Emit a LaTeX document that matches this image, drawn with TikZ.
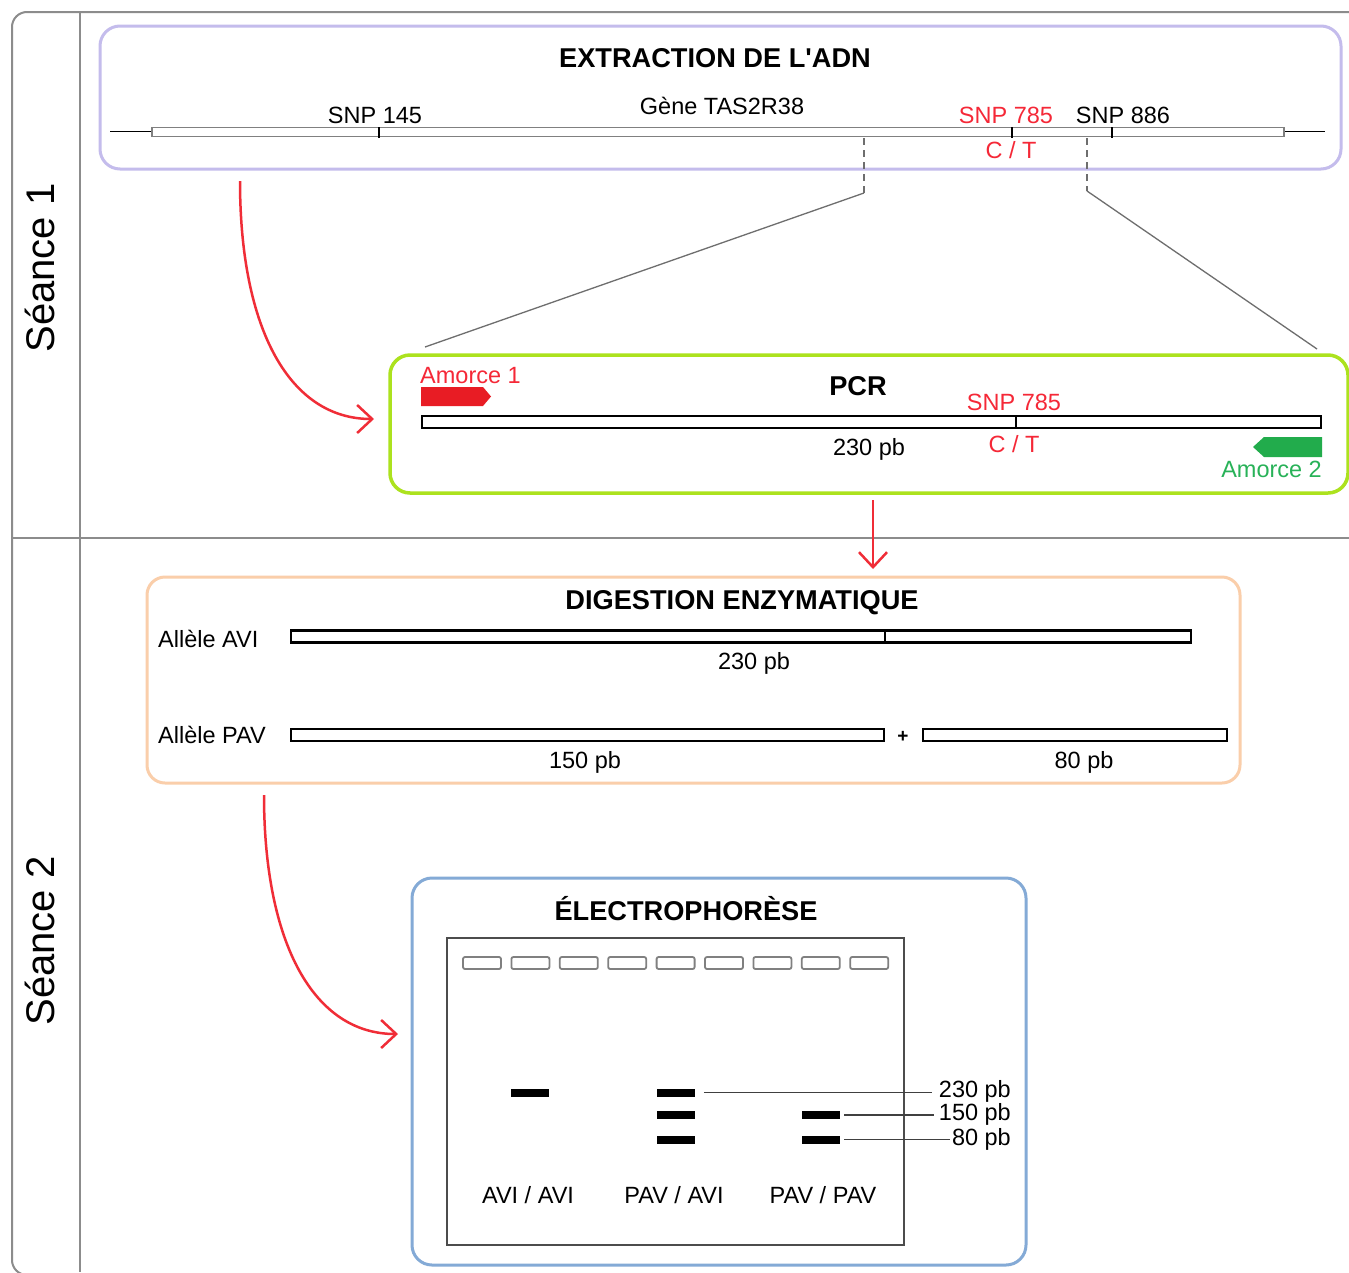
\documentclass[tikz,border=0pt]{standalone}
\usepackage{fontspec}
\setmainfont{Liberation Sans}[Ligatures=TeXOff]
\usetikzlibrary{arrows.meta,calc}
\definecolor{framegray}{RGB}{140,140,140}
\definecolor{lav}{RGB}{196,188,236}
\definecolor{lime}{RGB}{172,226,30}
\definecolor{peach}{RGB}{250,206,170}
\definecolor{skyb}{RGB}{132,170,214}
\definecolor{snpred}{RGB}{245,40,55}
\definecolor{primred}{RGB}{232,28,36}
\definecolor{primgreen}{RGB}{34,172,76}
\definecolor{txtgreen}{RGB}{40,178,88}
\definecolor{arrred}{RGB}{240,45,55}
\definecolor{zoomgray}{RGB}{110,110,110}
\begin{document}
\begin{tikzpicture}[x=1pt,y=-1pt,
  txt/.style={font=\fontsize{23.5}{28}\selectfont, inner sep=0pt, anchor=base},
  ttl/.style={font=\bfseries\fontsize{27.2}{31}\selectfont, inner sep=0pt, anchor=base},
  redtxt/.style={txt, text=snpred},
  stage/.style={draw, line width=3pt, rounded corners=20pt, inner sep=0pt},
  frameline/.style={draw=framegray, line width=2pt},
  genebar/.style={draw=gray, line width=1.5pt, fill=white},
  dnabar/.style={draw=black, line width=2.5pt, fill=white},
  tickmark/.style={line width=2.5pt},
  zoomline/.style={draw=zoomgray, line width=1.3pt},
  flow/.style={draw=arrred, line width=2.5pt, -{Straight Barb[length=15pt,width=28pt,line width=2.5pt]}},
  well/.style={draw=gray, line width=1.8pt, rounded corners=2pt, minimum width=38pt, minimum height=12pt, inner sep=0pt},
  band/.style={fill=black, minimum width=38pt, minimum height=8pt, inner sep=0pt},
  lblline/.style={draw=black!75, line width=1.2pt},
  seance/.style={font=\fontsize{40}{44}\selectfont, rotate=90, inner sep=0pt},
]
\useasboundingbox (0,0) rectangle (1349,1272);
\clip (0,0) rectangle (1349,1272);
\fill[white] (0,0) rectangle (1349,1272);

% outer frame
\draw[frameline, rounded corners=15pt] (12,12) rectangle (1390,1275);
\draw[frameline] (80,12) -- (80,1272);
\draw[frameline] (12,538) -- (1349,538);
\node[seance] (s1) at (40,268) {Séance 1};
\node[seance] (s2) at (40,941) {Séance 2};

% stage boxes
\node[stage, draw=lav, minimum width=1241pt, minimum height=143pt] (ext) at (720.5,97.5) {};
\node[stage, draw=lime, line width=3.5pt, minimum width=958pt, minimum height=138pt] (pcr) at (869,424) {};
\node[stage, draw=peach, rounded corners=18pt, minimum width=1093pt, minimum height=206pt] (dig) at (693.5,680) {};
\node[stage, draw=skyb, minimum width=614pt, minimum height=387pt] (ele) at (719,1071.5) {};

% ---- Extraction
\node[ttl] (text) at (715,67) {EXTRACTION DE L'ADN};
\draw[line width=1.5pt] (110,131.5) -- (1325,131.5);
\draw[genebar] (152,127.5) rectangle (1284,136.5);
\draw[tickmark] (379,127) -- (379,137.5);
\draw[tickmark] (1012,127) -- (1012,137.5);
\draw[tickmark] (1112,127) -- (1112,137.5);
\node[txt] (snp145) at (375,123) {SNP 145};
\node[txt] (gene) at (722,114) {Gène TAS2R38};
\node[redtxt] (snp785) at (1006,123) {SNP 785};
\node[txt] (snp886) at (1123,123) {SNP 886};
\node[redtxt] (ct1) at (1011,158) {C / T};

% zoom lines
\coordinate (z1) at (864,138);
\coordinate (z1b) at (864,193);
\coordinate (z1e) at (425,347);
\coordinate (z2) at (1087,138);
\coordinate (z2b) at (1087,191);
\coordinate (z2e) at (1317,349);
\draw[zoomline, dash pattern=on 7pt off 5pt] (z1) -- (z1b);
\draw[zoomline] (z1b) -- (z1e);
\draw[zoomline, dash pattern=on 7pt off 5pt] (z2) -- (z2b);
\draw[zoomline] (z2b) -- (z2e);

% ---- PCR
\node[ttl] (tpcr) at (858,395) {PCR};
\node[redtxt, anchor=base west] (am1) at (420,383) {Amorce 1};
\fill[primred] (421,387) -- (483,387) -- (491,396.5) -- (483,406) -- (421,406) -- cycle;
\draw[dnabar] (422,416) rectangle (1321,428);
\draw[tickmark] (1016,416) -- (1016,428);
\node[redtxt] (snp785b) at (1014,410) {SNP 785};
\node[redtxt] (ct2) at (1014,452) {C / T};
\node[txt] (l230a) at (869,455) {230 pb};
\fill[primgreen] (1322,437) -- (1264,437) -- (1253,447) -- (1264,457) -- (1322,457) -- cycle;
\node[txt, text=txtgreen, anchor=base east] (am2) at (1322,477) {Amorce 2};

% ---- Digestion
\node[ttl] (tdig) at (742,609) {DIGESTION ENZYMATIQUE};
\node[txt, anchor=base west] (avi) at (158,647) {Allèle AVI};
\draw[dnabar] (291,630.5) rectangle (1191,642.5);
\draw[line width=2pt] (885,630.5) -- (885,642.5);
\node[txt] (l230b) at (754,669) {230 pb};
\node[txt, anchor=base west] (pav) at (158,743) {Allèle PAV};
\draw[dnabar] (291,729) rectangle (884,741);
\draw[dnabar] (923,729) rectangle (1227,741);
\node[txt, font=\bfseries\fontsize{19}{22}\selectfont] (plus) at (903,742.5) {+};
\node[txt] (l150) at (585,768) {150 pb};
\node[txt] (l80) at (1084,768) {80 pb};

% ---- Electrophorese
\node[ttl] (tel) at (686,920) {ÉLECTROPHORÈSE};
\node[draw=black!70, line width=1.5pt, minimum width=457pt, minimum height=307pt, inner sep=0pt] (gel) at (675.5,1091.5) {};
\foreach \i in {0,...,8} { \node[well] (w\i) at ({482+48.4*\i},963) {}; }
\node[band] (b2) at (530.4,1092.5) {};
\node[band] (b5a) at (675.6,1092.5) {};
\node[band] (b5b) at (675.6,1115) {};
\node[band] (b5c) at (675.6,1139.5) {};
\node[band] (b8b) at (820.8,1115) {};
\node[band] (b8c) at (820.8,1139.5) {};
\node[txt, anchor=base east] (g230) at (1011,1097) {230 pb};
\node[txt, anchor=base east] (g150) at (1011,1120) {150 pb};
\node[txt, anchor=base east] (g80) at (1011,1145) {80 pb};
\draw[lblline, shorten <=9pt, shorten >=7pt] (b5a.east) -- (b5a.east -| g230.west);
\draw[lblline, shorten <=4pt, shorten >=5pt] (b8b.east) -- (b8b.east -| g150.west);
\draw[lblline, shorten <=4pt, shorten >=2pt] (b8c.east) -- (b8c.east -| g80.west);
\node[txt] (lane1) at (528,1203) {AVI / AVI};
\node[txt] (lane2) at (674,1203) {PAV / AVI};
\node[txt] (lane3) at (823,1203) {PAV / PAV};

% ---- flow arrows
\coordinate (a1s) at (240,181);
\coordinate (a1e) at (374,419);
\draw[flow] (a1s) .. controls (240,330) and (290,419) .. (a1e);
\coordinate (a2s) at (873,500);
\coordinate (a2e) at (873,569);
\draw[flow] (a2s) -- (a2e);
\coordinate (a3s) at (264,795);
\coordinate (a3e) at (398,1034);
\draw[flow] (a3s) .. controls (264,944) and (314,1034) .. (a3e);
\end{tikzpicture}
\end{document}
